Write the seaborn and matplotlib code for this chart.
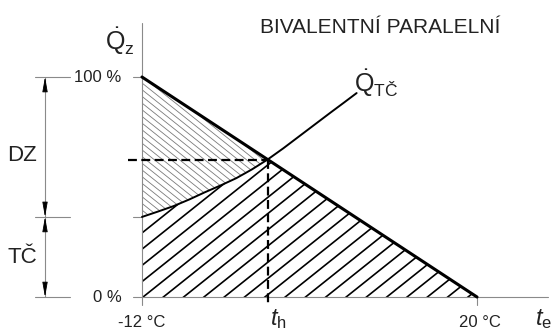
import matplotlib
matplotlib.use("Agg")
import matplotlib.pyplot as plt
import numpy as np
import seaborn as sns

# Data
demand_temps = [-12, 20]          # outdoor temperature, °C
demand_pct = [100, 0]             # heat demand Q_z, %
hp_temps = [-12, -10.5, -9, -7.5, -6, -4.5, -3, -1.5, 0, 1.5, 3, 4.5, 6, 7.3, 8.5]
hp_pct = [36.4, 38.8, 41.3, 44.3, 47.6, 50.7, 54.0, 58.0, 62.5,
          67.6, 73.0, 78.4, 83.8, 88.4, 92.7]   # heat pump output Q_TČ, %
t_biv = 0                          # bivalent point t_h
y_labels = ["100 %", "0 %"]
x_labels = ["-12 °C", "20 °C"]

sns.set_style("white")
plt.rcParams["font.family"] = ["Liberation Sans", "DejaVu Sans"]
plt.rcParams["mathtext.fontset"] = "custom"
plt.rcParams["mathtext.rm"] = "Liberation Sans"
plt.rcParams["mathtext.it"] = "Liberation Sans:italic"
plt.rcParams["mathtext.default"] = "regular"

fig = plt.figure(figsize=(5.52, 3.32), dpi=100)
ax = fig.add_axes([0, 0, 1, 1])
ax.set_xlim(-25.56, 27.16)
ax.set_ylim(-15.9, 135)
ax.axis("off")

gray = "#8a8a8a"
txt = "#222222"

left = [t for t in hp_temps if t <= t_biv]
left_pct = hp_pct[: len(left)]
left_demand = np.interp(left, demand_temps, demand_pct)


def hatch(poly, start, step, slope, n, **kw):
    # hatch lines clipped to a filled area
    clip = poly.get_paths()[0]
    for c in np.arange(start, start + n * step, step):
        ln, = ax.plot([c - 40, c + 40], [-slope * 40, slope * 40], **kw)
        ln.set_clip_path(clip, ax.transData)


# DZ area (thin gray hatch), between heat pump curve and demand line
dz = ax.fill_between(left, left_pct, left_demand, facecolor="none", linewidth=0)
hatch(dz, -12, 0.8, -3.8, 45, color="#7a7a7a", lw=0.6)

# TČ area (black hatch)
tc = ax.fill_between(left + [demand_temps[1]], 0, left_pct + [demand_pct[1]],
                     facecolor="none", linewidth=0)
hatch(tc, -11.9 - 16 * 1.94, 1.94, 3.8, 34, color="black", lw=1.2)

# axes
ax.plot([-12, -12], [-3.6, 124.5], color=gray, lw=0.8)
ax.plot([-12.86, 26.8], [0, 0], color=gray, lw=0.8)
for yv in [demand_pct[0], hp_pct[0]]:
    ax.plot([-12.86, -12], [yv, yv], color=gray, lw=0.8)
ax.plot([20, 20], [0, -3.6], color=gray, lw=0.8)

# dashed bivalent guides
y_biv = np.interp(t_biv, demand_temps, demand_pct)
ax.plot([-13.3, t_biv], [y_biv, y_biv], color="black", lw=1.6, ls=(0, (4, 2)))
ax.plot([t_biv, t_biv], [y_biv, -3.6], color="black", lw=1.6, ls=(0, (4, 2)))

# lines
sns.lineplot(x=demand_temps, y=demand_pct, ax=ax, color="black", linewidth=2.2)
sns.lineplot(x=hp_temps, y=hp_pct, ax=ax, color="black", linewidth=1.4)

# dimension lines on the left
xd = -21.26
ax.plot([xd, xd], [0, 100], color=gray, lw=0.8)
for yv in [demand_pct[0], hp_pct[0], 0]:
    ax.plot([-22.22, -18.88], [yv, yv], color=gray, lw=0.8)
arrow = dict(arrowstyle="-|>,head_length=0.9,head_width=0.16", color="black",
             lw=0.6, shrinkA=0, shrinkB=0)
for tip, d in [(100, -5.7), (hp_pct[0], 5.7), (hp_pct[0], -5.7), (0, 5.7)]:
    ax.annotate("", xy=(xd, tip), xytext=(xd, tip + d), arrowprops=arrow)

# texts
ax.text(10.8, 122.7, "BIVALENTNÍ PARALELNÍ", ha="center", va="center",
        fontsize=15, color=txt)
ax.text(-14.0, 100, y_labels[0], ha="right", va="center", fontsize=12, color=txt)
ax.text(-13.9, 0, y_labels[1], ha="right", va="center", fontsize=12, color=txt)
ax.text(-12, -11.6, x_labels[0], ha="center", va="center", fontsize=12, color=txt)
ax.text(20.3, -11.6, x_labels[1], ha="center", va="center", fontsize=12, color=txt)
ax.text(0.2, -15.6, r"$\mathit{t}_{h}$", ha="left", va="bottom", fontsize=17, color=txt)
ax.text(25.5, -15.6, r"$\mathit{t}_{e}$", ha="left", va="bottom", fontsize=17, color=txt)
ax.text(-14.1, 116.4, r"$\dot{Q}_{z}$", ha="center", va="center", fontsize=18, color=txt)
ax.text(10.4, 97.3, r"$\dot{Q}_{TČ}$", ha="center", va="center", fontsize=18, color=txt)
ax.text(-23.42, 61.8, "DZ", ha="center", va="baseline", fontsize=16, color=txt)
ax.text(-23.42, 15.5, "TČ", ha="center", va="baseline", fontsize=16, color=txt)

fig.savefig("out.png", dpi=100)
